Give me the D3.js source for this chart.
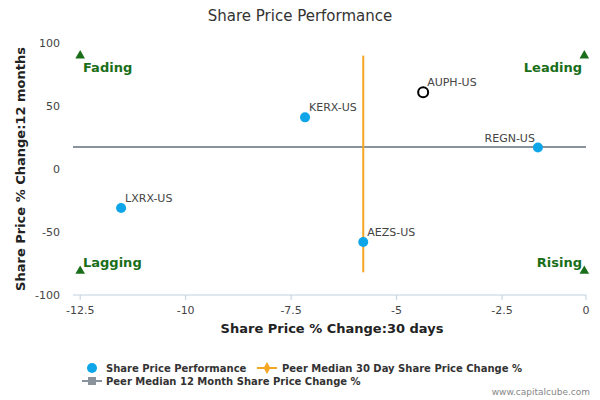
<!DOCTYPE html><html><head><script src="https://cdn.jsdelivr.net/npm/d3@7"></script>
<style>body{margin:0;background:#fff}text{font-family:"DejaVu Sans",sans-serif}</style></head><body><svg id="c" width="600" height="400"></svg>
<script>
const names=["KERX-US","AUPH-US","REGN-US","LXRX-US","AEZS-US"];
const x30=[-7.17,-4.37,-1.65,-11.53,-5.79];
const y12=[41,61,17,-31,-58];
const hollow=[false,true,false,false,false];
const medX=-5.79, medY=17.5;
const xTicks=[-12.5,-10,-7.5,-5,-2.5,0];
const yTicks=[100,50,0,-50,-100];
const svg=d3.select("#c");
const x=d3.scaleLinear().domain([-12.67,-0.51]).range([73,586]);
const xl=d=>Math.min(x(d),586);
const y=d3.scaleLinear().domain([-100,100]).range([295,43]);
svg.append("text").attr("x",300).attr("y",21).attr("text-anchor","middle").attr("font-size",15).attr("fill","#333").text("Share Price Performance");
svg.append("line").attr("x1",73).attr("x2",586).attr("y1",295).attr("y2",295).attr("stroke","#c0d0e0");
svg.append("g").selectAll("text").data(xTicks).join("text").attr("x",d=>xl(d)).attr("y",314).attr("text-anchor","middle").attr("font-size",11).attr("fill","#444").text(d=>d);
svg.append("g").selectAll("line").data(xTicks).join("line").attr("x1",d=>xl(d)).attr("x2",d=>xl(d)).attr("y1",295).attr("y2",300).attr("stroke","#c0d0e0");
svg.append("g").selectAll("text").data(yTicks).join("text").attr("x",60).attr("y",d=>y(d)+4).attr("text-anchor","end").attr("font-size",11).attr("fill","#444").text(d=>d);
svg.append("text").attr("x",332).attr("y",333).attr("text-anchor","middle").attr("font-size",13).attr("font-weight","bold").attr("fill","#222").text("Share Price % Change:30 days");
svg.append("text").attr("transform","translate(25,169) rotate(-90)").attr("text-anchor","middle").attr("font-size",13).attr("font-weight","bold").attr("fill","#222").text("Share Price % Change:12 months");
svg.append("line").attr("x1",73).attr("x2",586).attr("y1",y(medY)).attr("y2",y(medY)).attr("stroke","#8a939c").attr("stroke-width",2);
svg.append("line").attr("x1",x(medX)).attr("x2",x(medX)).attr("y1",y(90)).attr("y2",y(-82)).attr("stroke","#f5a623").attr("stroke-width",2);
const tri=d3.symbol().type(d3.symbolTriangle).size(40);
[[-12.5,90],[-0.55,90],[-12.5,-81],[-0.55,-81]].forEach(p=>svg.append("path").attr("d",tri).attr("transform",`translate(${x(p[0])},${y(p[1])})`).attr("fill","#1a6e1a"));
const ql=[["Fading",83,72,"start"],["Leading",582,72,"end"],["Lagging",83,267,"start"],["Rising",582,267,"end"]];
ql.forEach(q=>svg.append("text").attr("x",q[1]).attr("y",q[2]).attr("text-anchor",q[3]).attr("font-size",13).attr("font-weight","bold").attr("fill","#1a6e1a").text(q[0]));
names.forEach((n,i)=>{
 svg.append("circle").attr("cx",x(x30[i])).attr("cy",y(y12[i])).attr("r",5).attr("fill",hollow[i]?"#fff":"#0ea5e9").attr("stroke",hollow[i]?"#000":"none").attr("stroke-width",2);
 const right=x30[i]>-2;
 svg.append("text").attr("x",x(x30[i])+(right?-3:4)).attr("y",y(y12[i])-6).attr("text-anchor",right?"end":"start").attr("font-size",11).attr("fill","#444").text(n);
});
svg.append("circle").attr("cx",92).attr("cy",368).attr("r",5).attr("fill","#0ea5e9");
svg.append("text").attr("x",106).attr("y",372).attr("font-size",10).attr("font-weight","bold").attr("fill","#333").text("Share Price Performance");
svg.append("line").attr("x1",257).attr("x2",277).attr("y1",368).attr("y2",368).attr("stroke","#f5a623").attr("stroke-width",2);
svg.append("path").attr("d",d3.symbol().type(d3.symbolDiamond).size(40)).attr("transform","translate(267,368)").attr("fill","#f5a623");
svg.append("text").attr("x",282).attr("y",372).attr("font-size",10).attr("font-weight","bold").attr("fill","#333").text("Peer Median 30 Day Share Price Change %");
svg.append("line").attr("x1",82).attr("x2",102).attr("y1",381).attr("y2",381).attr("stroke","#8a939c").attr("stroke-width",2);
svg.append("rect").attr("x",88).attr("y",377).attr("width",8).attr("height",8).attr("fill","#8a939c");
svg.append("text").attr("x",106).attr("y",385).attr("font-size",10).attr("font-weight","bold").attr("fill","#333").text("Peer Median 12 Month Share Price Change %");
svg.append("text").attr("x",590).attr("y",395).attr("text-anchor","end").attr("font-size",9).attr("fill","#888").text("www.capitalcube.com");
</script></body></html>
